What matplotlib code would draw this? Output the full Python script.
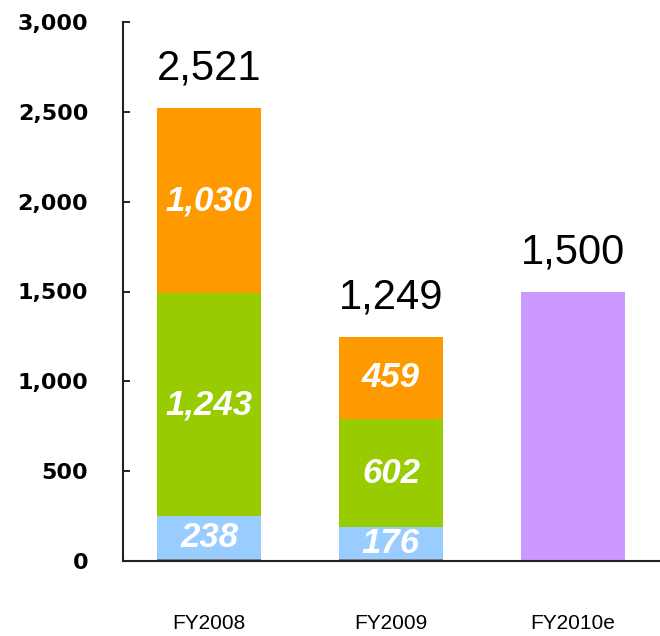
import numpy as np
import matplotlib.pyplot as plt

# data
years = ['FY2008', 'FY2009', 'FY2010e']
gray = [10, 12, 0]
blue = [238, 176, 0]
green = [1243, 602, 0]
orange = [1030, 459, 0]
purple = [0, 0, 1500]
totals = [2521, 1249, 1500]

font = 'Liberation Sans'

fig = plt.figure(figsize=(6.6, 6.36), dpi=100)
ax = fig.add_axes([123 / 660, 75 / 636, 537 / 660, 539 / 636])

x = np.arange(len(years))
w = 0.57
layers = [(gray, '#808080'), (blue, '#99CCFF'), (green, '#99CC00'),
          (orange, '#FF9900'), (purple, '#CC99FF')]
bottom = np.zeros(len(years))
for vals, col in layers:
    vals = np.array(vals, dtype=float)
    ax.bar(x, vals, w, bottom=bottom, color=col, edgecolor='none')
    # white italic labels inside the coloured segments
    if col in ('#99CCFF', '#99CC00', '#FF9900'):
        for i, v in enumerate(vals):
            if v > 0:
                ax.text(x[i], bottom[i] + v / 2, f'{int(v):,}', ha='center', va='center',
                        color='white', fontsize=25, fontweight='bold', style='italic',
                        family=font)
    bottom += vals

for i, t in enumerate(totals):
    ax.annotate(f'{t:,}', (x[i], t), xytext=(0, 14), textcoords='offset points',
                ha='center', va='bottom', fontsize=30, family=font)

ax.set_xlim(-0.474, 2.48)
ax.set_ylim(0, 3000)
ax.set_yticks(np.arange(0, 3001, 500))
ax.set_yticklabels([f'{v:,}' for v in range(0, 3001, 500)], fontsize=16,
                   fontweight='bold', family='DejaVu Sans')
ax.set_xticks(x)
ax.set_xticklabels(years, fontsize=15, family=font)
ax.tick_params(axis='x', length=0, pad=38)
ax.tick_params(axis='y', direction='in', length=5, width=1.2, pad=25)

for s in ['top', 'right']:
    ax.spines[s].set_visible(False)
for s in ['left', 'bottom']:
    ax.spines[s].set_linewidth(1.5)
    ax.spines[s].set_color('#222222')

fig.savefig('out.png', dpi=100)
